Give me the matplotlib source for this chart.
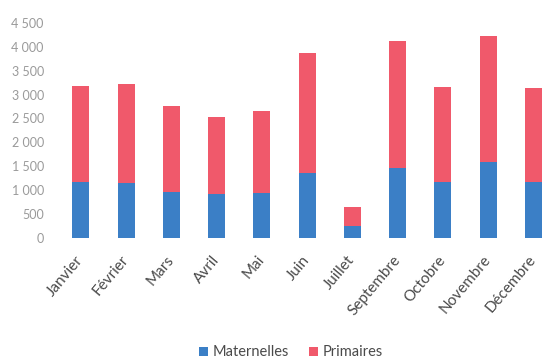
import matplotlib
matplotlib.use("Agg")
import matplotlib.pyplot as plt
import numpy as np

# monthly headcounts (no August)
mois = ["Janvier", "Février", "Mars", "Avril", "Mai", "Juin", "Juillet",
        "Septembre", "Octobre", "Novembre", "Décembre"]
maternelles = [1165, 1145, 970, 915, 935, 1365, 255, 1470, 1180, 1595, 1165]
primaires = [2015, 2075, 1790, 1610, 1715, 2500, 400, 2645, 1985, 2630, 1975]

ytick_values = [0, 500, 1000, 1500, 2000, 2500, 3000, 3500, 4000, 4500]
ytick_labels = ["0", "500", "1 000", "1 500", "2 000", "2 500",
                "3 000", "3 500", "4 000", "4 500"]

plt.rcParams["font.family"] = ["Lato", "DejaVu Sans"]

fig = plt.figure(figsize=(5.44, 3.61), dpi=100)
ax = fig.add_axes([0.0985, 0.3407, 0.9013, 0.5961])

x = np.arange(len(mois))
width = 0.375
ax.bar(x, maternelles, width, color="#3b7fc6", label="Maternelles")
ax.bar(x, primaires, width, bottom=maternelles, color="#f0596b", label="Primaires")

ax.set_xlim(-0.6, 10.23)
ax.set_ylim(0, 4500)
ax.set_yticks(ytick_values)
ax.set_yticklabels(ytick_labels, color="#9a9a9a", fontsize=9)
ax.set_xticks(x)
ax.set_xticklabels(mois, rotation=50, ha="right", va="center",
                   rotation_mode="anchor", color="#4a4a4a", fontsize=11)
ax.tick_params(axis="x", length=0, pad=14)
ax.tick_params(axis="y", length=0, pad=7)
for s in ax.spines.values():
    s.set_visible(False)

fig.legend(loc="center", bbox_to_anchor=(0.535, 0.024), ncol=2, frameon=False,
           fontsize=10.5, handlelength=0.6, handleheight=0.6, handletextpad=0.3,
           columnspacing=1.4, labelcolor="#4a4a4a")

fig.savefig("out.png", dpi=100)
